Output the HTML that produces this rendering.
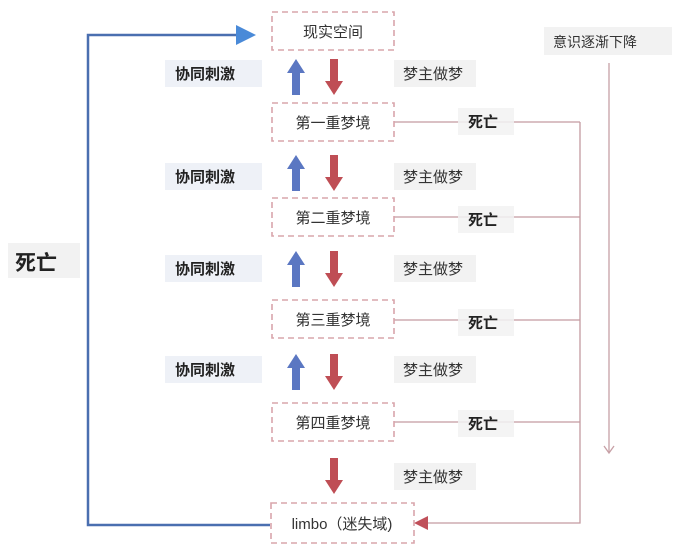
<!DOCTYPE html>
<html><head><meta charset="utf-8"><style>
html,body{margin:0;padding:0;background:#fff;}
svg{display:block;font-family:"Liberation Sans","Noto Sans CJK SC",sans-serif;}
</style></head><body>
<svg width="676" height="556" viewBox="0 0 676 556" xmlns="http://www.w3.org/2000/svg">
<defs>
<g id="up"><polygon points="0,-18 -9,-4 -4,-4 -4,18 4,18 4,-4 9,-4" fill="#5b77c2"/></g>
<g id="dn"><polygon points="0,18 -9,4 -4,4 -4,-18 4,-18 4,4 9,4" fill="#bf4e55"/></g>
</defs>
<!-- blue loop -->
<polyline points="270,525 88,525 88,35 238,35" fill="none" stroke="#4a6fb0" stroke-width="2.5"/>
<polygon points="236,25 256,35 236,45" fill="#4a8ad8"/>
<!-- red death line -->
<g stroke="#c49aa0" stroke-width="1.3" fill="none">
<line x1="393" y1="122" x2="580" y2="122"/>
<line x1="393" y1="217" x2="580" y2="217"/>
<line x1="393" y1="320" x2="580" y2="320"/>
<line x1="393" y1="422" x2="580" y2="422"/>
<polyline points="580,122 580,523 425,523"/>
</g>
<polygon points="414,523 428,516 428,530" fill="#c0505a"/>
<!-- gray consciousness line -->
<line x1="609" y1="63" x2="609" y2="452" stroke="#c7a0a6" stroke-width="1.3"/>
<polyline points="604,446 609,453 614,446" fill="none" stroke="#c7a0a6" stroke-width="1.3"/>
<rect x="544" y="27" width="128" height="28" fill="#f2f2f2"/>
<text x="553" y="47" font-size="14" fill="#333">意识逐渐下降</text>
<!-- boxes -->
<g fill="#fff" stroke="#d9a5ab" stroke-width="1.6" stroke-dasharray="6,4">
<rect x="272" y="12" width="122" height="38"/>
<rect x="272" y="103" width="122" height="38"/>
<rect x="272" y="198" width="122" height="38"/>
<rect x="272" y="300" width="122" height="38"/>
<rect x="272" y="403" width="122" height="38"/>
<rect x="271" y="503" width="143" height="40"/>
</g>
<g font-size="15" fill="#333" text-anchor="middle">
<text x="333" y="37">现实空间</text>
<text x="333" y="128">第一重梦境</text>
<text x="333" y="223">第二重梦境</text>
<text x="333" y="325">第三重梦境</text>
<text x="333" y="428">第四重梦境</text>
<text x="342" y="529">limbo（迷失域)</text>
</g>
<!-- arrows -->
<use href="#up" x="296" y="77"/><use href="#dn" x="334" y="77"/>
<use href="#up" x="296" y="173"/><use href="#dn" x="334" y="173"/>
<use href="#up" x="296" y="269"/><use href="#dn" x="334" y="269"/>
<use href="#up" x="296" y="372"/><use href="#dn" x="334" y="372"/>
<use href="#dn" x="334" y="476"/>
<!-- labels -->
<g fill="#eef1f7">
<rect x="165" y="60" width="97" height="27"/>
<rect x="165" y="163" width="97" height="27"/>
<rect x="165" y="255" width="97" height="27"/>
<rect x="165" y="356" width="97" height="27"/>
</g>
<g font-size="15" font-weight="bold" fill="#222">
<text x="175" y="79">协同刺激</text>
<text x="175" y="182">协同刺激</text>
<text x="175" y="274">协同刺激</text>
<text x="175" y="375">协同刺激</text>
</g>
<g fill="#f2f2f2">
<rect x="394" y="60" width="82" height="27"/>
<rect x="394" y="163" width="82" height="27"/>
<rect x="394" y="255" width="82" height="27"/>
<rect x="394" y="356" width="82" height="27"/>
<rect x="394" y="463" width="82" height="27"/>
<rect x="458" y="108" width="56" height="27" opacity="0.85"/>
<rect x="458" y="206" width="56" height="27" opacity="0.85"/>
<rect x="458" y="309" width="56" height="27" opacity="0.85"/>
<rect x="458" y="410" width="56" height="27" opacity="0.85"/>
<rect x="8" y="243" width="72" height="35"/>
</g>
<g font-size="15" fill="#333">
<text x="403" y="79">梦主做梦</text>
<text x="403" y="182">梦主做梦</text>
<text x="403" y="274">梦主做梦</text>
<text x="403" y="375">梦主做梦</text>
<text x="403" y="482">梦主做梦</text>
</g>
<g font-size="15" font-weight="bold" fill="#222">
<text x="468" y="127">死亡</text>
<text x="468" y="225">死亡</text>
<text x="468" y="328">死亡</text>
<text x="468" y="429">死亡</text>
</g>
<text x="15" y="270" font-size="21" font-weight="bold" fill="#222">死亡</text>
</svg>
</body></html>
